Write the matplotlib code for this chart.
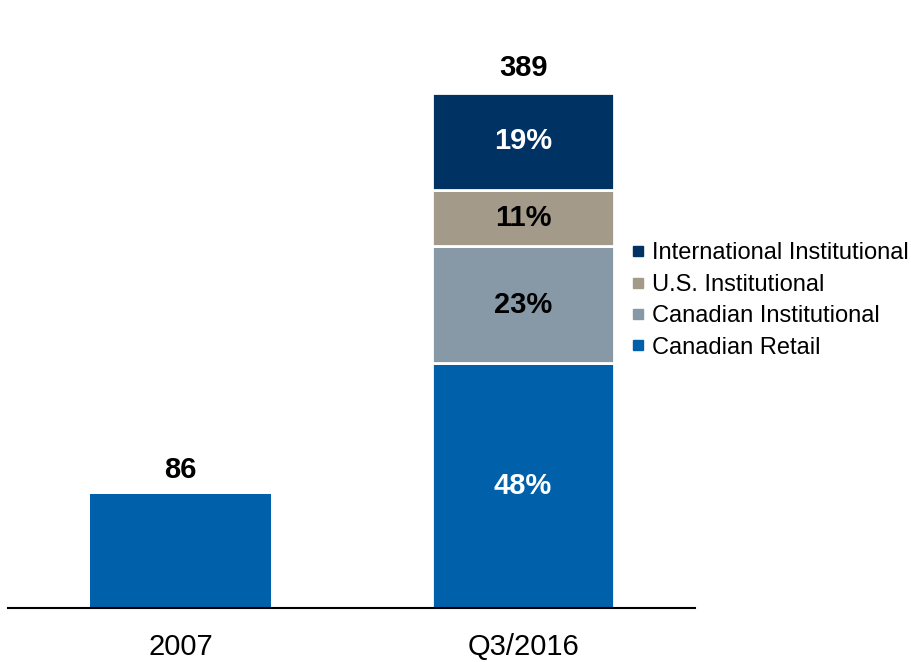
import matplotlib.pyplot as plt
from matplotlib.lines import Line2D

plt.rcParams['font.family'] = ['Liberation Sans', 'DejaVu Sans']

categories = ["2007", "Q3/2016"]
totals = [86, 389]
segments = ["Canadian Retail", "Canadian Institutional", "U.S. Institutional", "International Institutional"]
shares_2016 = [48, 23, 11, 19]
colors = ["#0060A9", "#8799A6", "#A39A8A", "#003263"]
label_colors = ["white", "black", "black", "white"]

fig = plt.figure(figsize=(9.11, 6.62), dpi=100)
ax = fig.add_axes([0.0088, 0.0816, 0.754, 0.9])

width = 0.53
# 2007 bar, all retail
ax.bar(0, totals[0], width, color=colors[0])
ax.text(0, totals[0] + 8, str(totals[0]), ha="center", va="bottom",
        fontsize=21, fontweight="bold")

# Q3/2016 stacked bar
scale = totals[1] / sum(shares_2016)
bottom = 0
for seg, pct, col, lc in zip(segments, shares_2016, colors, label_colors):
    h = pct * scale
    ax.bar(1, h, width, bottom=bottom, color=col, edgecolor="white", linewidth=2)
    ax.text(1, bottom + h / 2, f"{pct}%", ha="center", va="center",
            fontsize=21, fontweight="bold", color=lc)
    bottom += h
ax.text(1, totals[1] + 8, str(totals[1]), ha="center", va="bottom",
        fontsize=21, fontweight="bold")

ax.set_xlim(-0.504, 1.502)
ax.set_ylim(0, 450)
ax.set_xticks([0, 1])
ax.set_xticklabels(categories, fontsize=21)
ax.tick_params(axis="x", length=0, pad=18)
ax.set_yticks([])
for s in ["top", "right", "left"]:
    ax.spines[s].set_visible(False)
ax.spines["bottom"].set_linewidth(1.5)

handles = [Line2D([], [], marker="s", linestyle="none", markersize=7, color=c)
           for c in colors[::-1]]
fig.legend(handles, segments[::-1], loc="upper left", bbox_to_anchor=(0.664, 0.666),
           frameon=False, fontsize=17, handletextpad=0.1, labelspacing=0.4,
           handlelength=1.0)

fig.savefig("out.png", dpi=100)
